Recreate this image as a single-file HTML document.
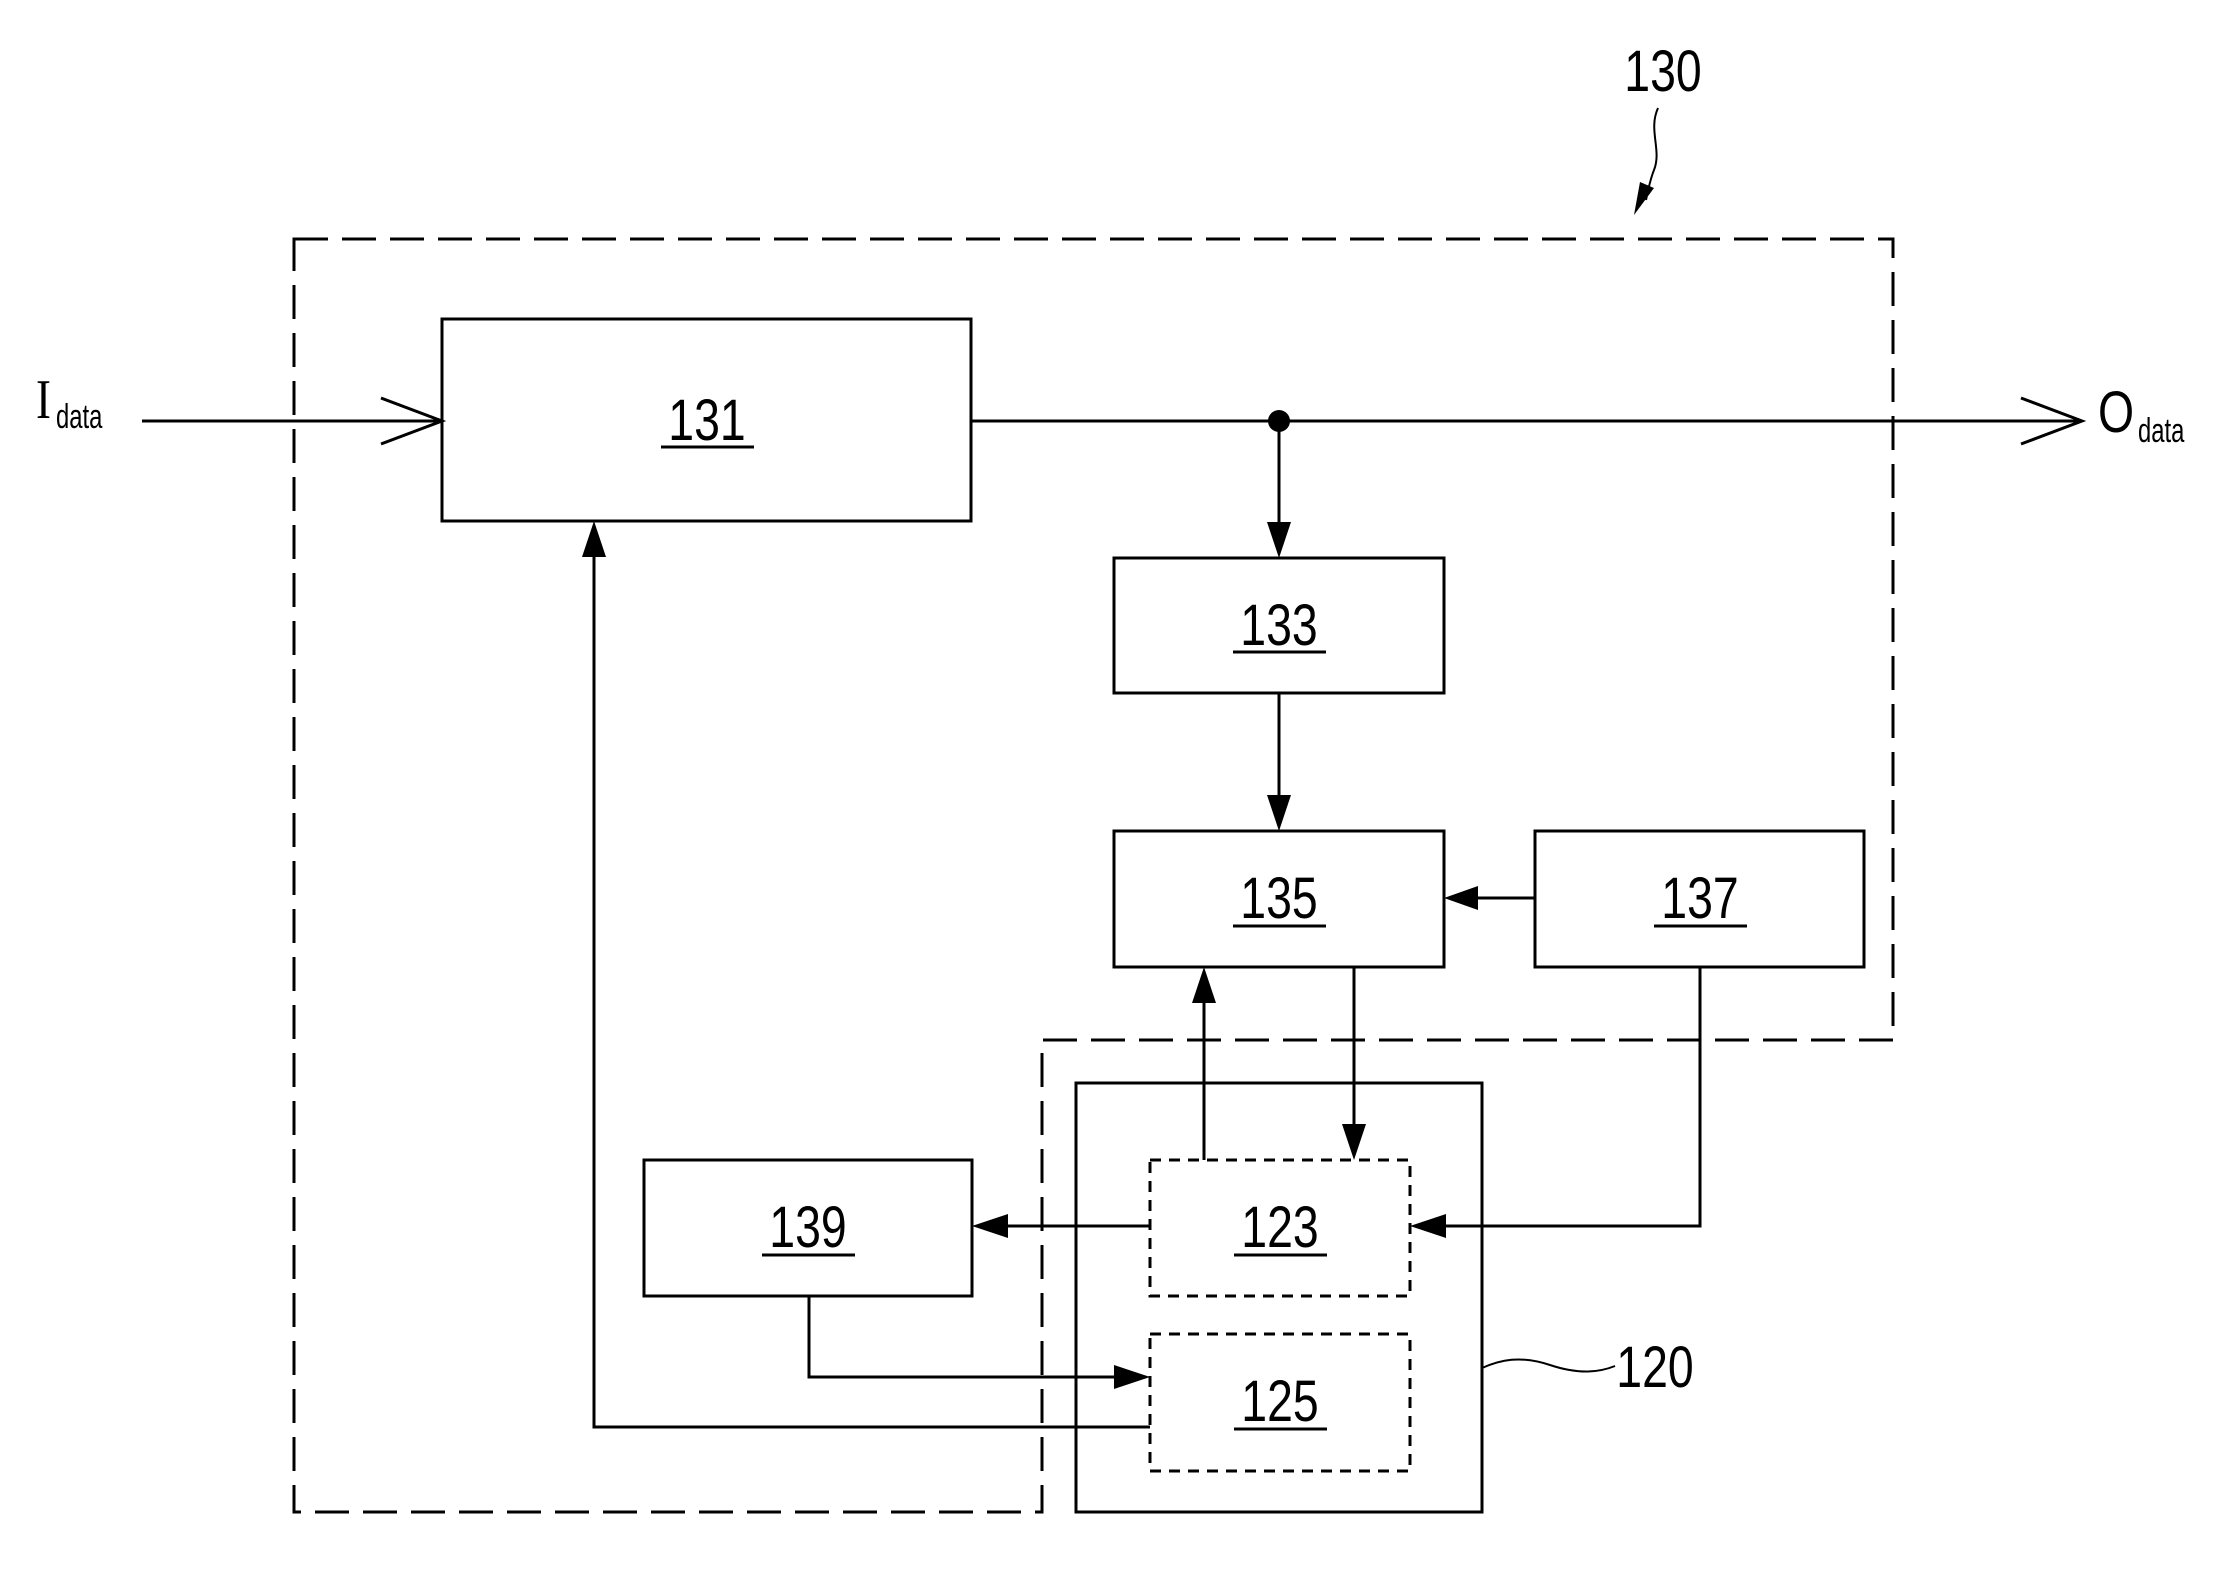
<!DOCTYPE html>
<html><head><meta charset="utf-8"><style>
html,body{margin:0;padding:0;background:#fff;}
svg{display:block;}
text{font-family:"Liberation Sans",sans-serif;fill:#000;}
</style></head><body>
<svg width="2228" height="1573" viewBox="0 0 2228 1573" xmlns="http://www.w3.org/2000/svg">
<defs>
<marker id="a" markerWidth="14" markerHeight="10" refX="14" refY="5" orient="auto" markerUnits="userSpaceOnUse" viewBox="0 0 14 10">
</marker>
</defs>
<g fill="none" stroke="#000" stroke-width="3">
<!-- outer dashed 130 -->
<path d="M294,239 H1893 V1040 H1042 V1512 H294 Z" stroke-dasharray="34,14"/>
<!-- boxes -->
<rect x="442" y="319" width="529" height="202"/>
<rect x="1114" y="558" width="330" height="135"/>
<rect x="1114" y="831" width="330" height="136"/>
<rect x="1535" y="831" width="329" height="136"/>
<rect x="644" y="1160" width="328" height="136"/>
<rect x="1076" y="1083" width="406" height="429"/>
<rect x="1150" y="1160" width="260" height="136" stroke-dasharray="11,8"/>
<rect x="1150" y="1334" width="260" height="137" stroke-dasharray="11,8"/>
<!-- lines -->
<line x1="142" y1="421" x2="442" y2="421"/>
<polyline points="381,398 442,421 381,444"/>
<line x1="971" y1="421" x2="2082" y2="421"/>
<polyline points="2021,398 2082,421 2021,444"/>
<line x1="1279" y1="421" x2="1279" y2="530"/>
<line x1="1279" y1="693" x2="1279" y2="800"/>
<line x1="1535" y1="898" x2="1475" y2="898"/>
<line x1="1204" y1="1160" x2="1204" y2="1000"/>
<line x1="1354" y1="967" x2="1354" y2="1125"/>
<polyline points="1700,967 1700,1226 1445,1226"/>
<line x1="1150" y1="1226" x2="1008" y2="1226"/>
<polyline points="809,1296 809,1377 1115,1377"/>
<polyline points="1150,1427 594,1427 594,555"/>
<!-- leaders -->
<path d="M1658,108 C1648,130 1662,150 1654,170 C1650,180 1648,190 1646,200" stroke-width="2"/>
<path d="M1482,1368 C1500,1360 1520,1355 1550,1365 C1580,1375 1600,1372 1615,1366" stroke-width="2"/>
</g>
<g fill="#000">
<circle cx="1279" cy="421" r="11"/>
<polygon points="1279,558 1267,522 1291,522"/>
<polygon points="1279,831 1267,795 1291,795"/>
<polygon points="1444,898 1478,886 1478,910"/>
<polygon points="1204,967 1192,1003 1216,1003"/>
<polygon points="1354,1160 1342,1124 1366,1124"/>
<polygon points="1410,1226 1446,1214 1446,1238"/>
<polygon points="972,1226 1008,1214 1008,1238"/>
<polygon points="1150,1377 1114,1365 1114,1389"/>
<polygon points="594,521 582,557 606,557"/>
<polygon points="1634,215 1640,182 1654,188"/>
</g>
<g font-size="58" text-anchor="middle">
<text x="0" y="0" transform="translate(707,440) scale(0.8,1)">131</text>
<text x="0" y="0" transform="translate(1279,645) scale(0.8,1)">133</text>
<text x="0" y="0" transform="translate(1279,918) scale(0.8,1)">135</text>
<text x="0" y="0" transform="translate(1700,918) scale(0.8,1)">137</text>
<text x="0" y="0" transform="translate(808,1247) scale(0.8,1)">139</text>
<text x="0" y="0" transform="translate(1280,1247) scale(0.8,1)">123</text>
<text x="0" y="0" transform="translate(1280,1421) scale(0.8,1)">125</text>
<text x="0" y="0" transform="translate(1663,91) scale(0.8,1)">130</text>
<text x="0" y="0" transform="translate(1655,1387) scale(0.8,1)">120</text>
</g>
<g stroke="#000" stroke-width="3">
<line x1="661" y1="447" x2="754" y2="447"/>
<line x1="1233" y1="652" x2="1326" y2="652"/>
<line x1="1233" y1="926" x2="1326" y2="926"/>
<line x1="1654" y1="926" x2="1747" y2="926"/>
<line x1="762" y1="1255" x2="855" y2="1255"/>
<line x1="1234" y1="1255" x2="1327" y2="1255"/>
<line x1="1234" y1="1429" x2="1327" y2="1429"/>
</g>
<text x="0" y="0" transform="translate(36,418) scale(0.8,1)" font-family="Liberation Serif" font-size="56" style="font-family:'Liberation Serif',serif">I</text>
<text x="0" y="0" transform="translate(56,428) scale(0.7,1)" font-size="34">data</text>
<text x="0" y="0" transform="translate(2098,432) scale(0.8,1)" font-size="58">O</text>
<text x="0" y="0" transform="translate(2138,442) scale(0.7,1)" font-size="34">data</text>
</svg>
</body></html>
